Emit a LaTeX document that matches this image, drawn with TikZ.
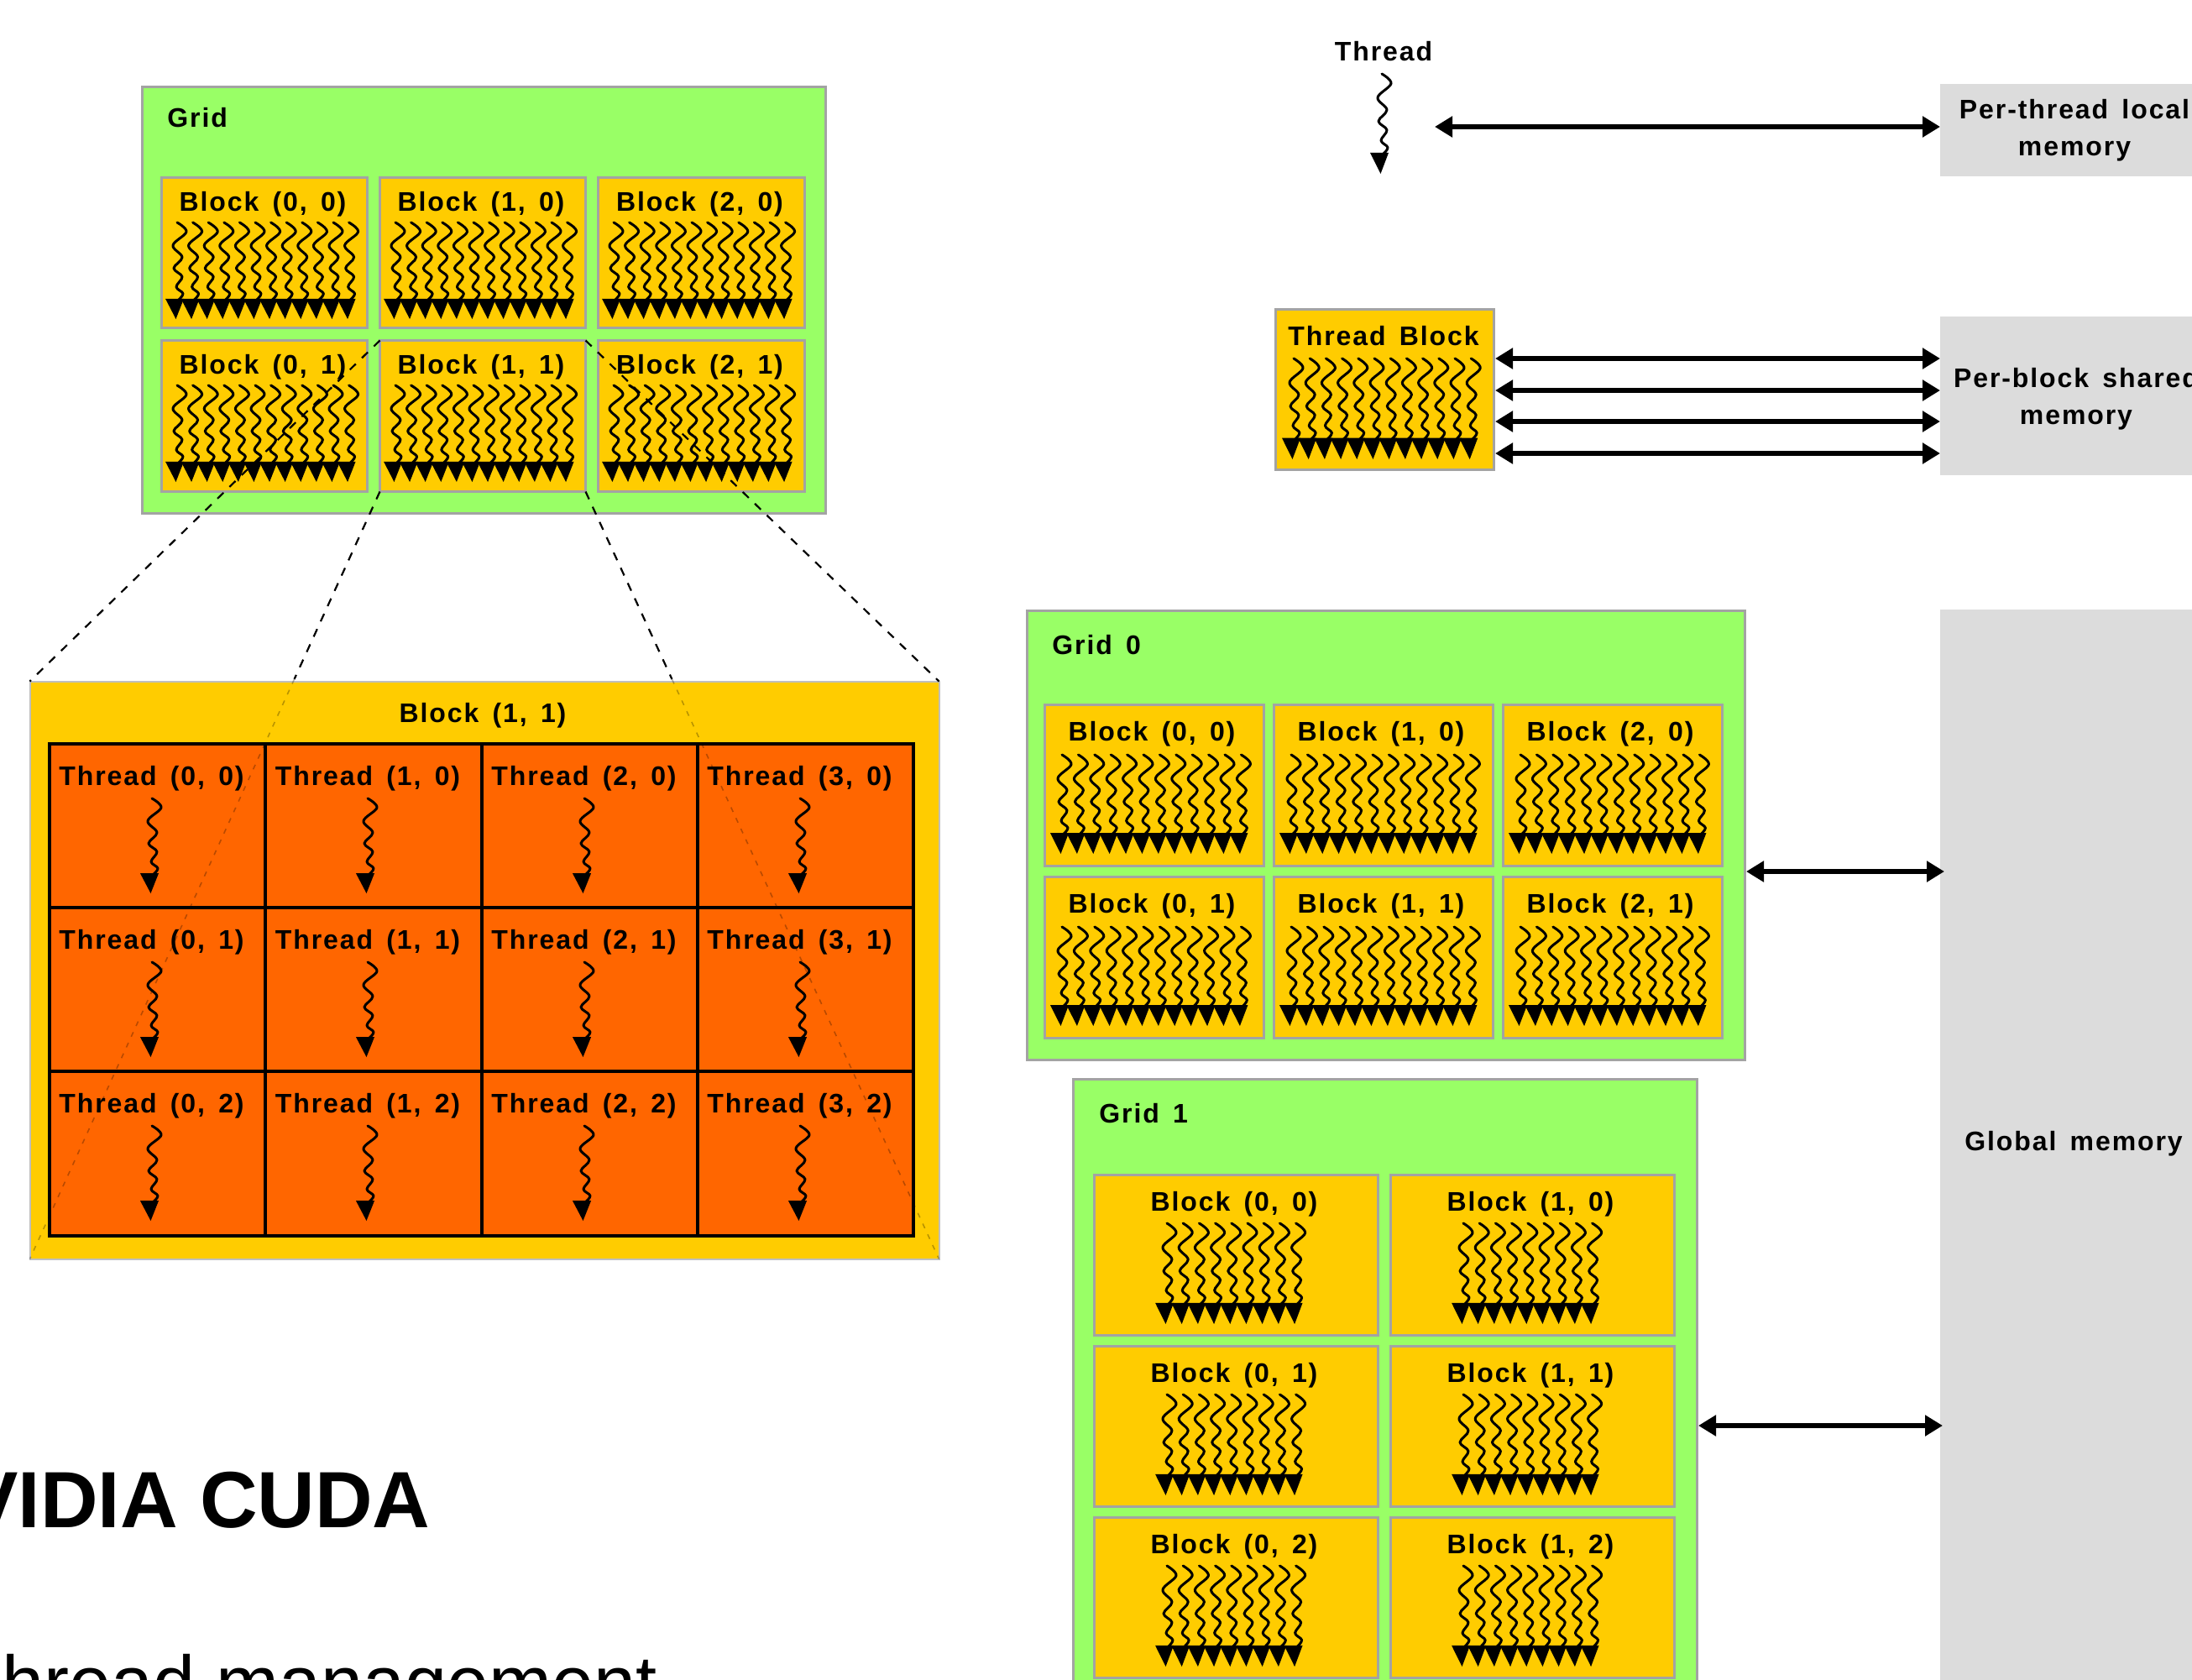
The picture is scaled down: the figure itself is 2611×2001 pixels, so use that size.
\documentclass[tikz,border=0pt]{standalone}
\usepackage{fontspec}
\setmainfont{Liberation Sans}
\newfontfamily\lblfont[LetterSpace=6,WordSpace=1.5]{Liberation Sans}
\usetikzlibrary{arrows.meta,calc}
\definecolor{gridgreen}{HTML}{99FF66}
\definecolor{blockyellow}{HTML}{FFCC00}
\definecolor{threadorange}{HTML}{FF6600}
\definecolor{edgegray}{HTML}{A3A3A3}
\definecolor{memgray}{HTML}{DCDCDC}
\tikzset{
  boxbase/.style={rectangle,inner sep=0pt,outer sep=0pt},
  gridbox/.style={boxbase,fill=gridgreen,draw=edgegray,line width=1.5pt},
  blockbox/.style={boxbase,fill=blockyellow,draw=edgegray,line width=1.5pt},
  bigbox/.style={boxbase,fill=blockyellow,draw=edgegray!70,line width=1pt},
  cellbox/.style={boxbase,fill=threadorange,draw=black,line width=1.7pt},
  membox/.style={boxbase,fill=memgray},
  memtext/.style={inner sep=0pt,align=center,font=\lblfont\bfseries\fontsize{16}{22}\selectfont},
  lbl/.style={inner sep=0pt,anchor=base,font=\lblfont\bfseries\fontsize{16}{19}\selectfont},
  lblw/.style={lbl,anchor=base west},
  zoomline/.style={dashed,dash pattern=on 5pt off 5pt,line width=1.1pt,black},
  faintline/.style={dashed,dash pattern=on 3pt off 4pt,line width=.8pt,black,opacity=.28},
  memarrow/.style={{Triangle[length=10.5pt,width=12pt]}-{Triangle[length=10.5pt,width=12pt]},line width=2.7pt,black},
  titletext/.style={inner sep=0pt,anchor=base east,font=\bfseries\fontsize{47.5}{55}\selectfont},
  subtext/.style={inner sep=0pt,anchor=base east,font=\fontsize{45}{50}\selectfont},
}
% raw box: name, style, x1, y1, x2, y2
\newcommand\rbx[6]{\node[#2,anchor=north west,minimum width={(#5-(#3))*.5pt},minimum height={(#6-(#4))*.5pt}] (#1) at (#3,#4) {};}
% box with its border inside the given outer edges
\newcommand\bx[6]{\pgfmathsetmacro\qa{#3+1.5}\pgfmathsetmacro\qb{#4+1.5}\node[#2,anchor=north west,minimum width={(#5-(#3)-3)*.5pt},minimum height={(#6-(#4)-3)*.5pt}] (#1) at (\qa,\qb) {};}
% one thread: start x, start y, height
\newcommand\wig[3]{%
  \begin{scope}[shift={(#1,#2)},yscale=#3/114]
    \draw[line width=1.5pt,line join=round,line cap=round] plot[smooth,tension=.6] coordinates {(0,0) (11,11) (-5,27) (6,41) (-4,54) (6,64) (-1,76) (7,84) (1,92)};
    \fill (-14,90) -- (8,90) -- (-1.5,114) -- cycle;
  \end{scope}}
% row of threads: x, y, count-1, spacing, height
\newcommand\wigs[5]{\foreach \wi in {0,...,#3}{\pgfmathsetmacro\wx{#1+\wi*#4}\wig{\wx}{#2}{#5}}}
\begin{document}
\begin{tikzpicture}[x=.5pt,y=-.5pt]
\path[use as bounding box,clip] (0,0) rectangle (2611,2001);
\fill[white] (0,0) rectangle (2611,2001);

% ---- left: grid
\bx{grid}{gridbox}{168}{102}{985}{613}
\node[lblw] (gridlbl) at (199,152) {Grid};
\foreach \c/\xa/\xb in {0/191/439,1/451/699,2/711/960}{
  \foreach \r/\ya/\yb in {0/210/392,1/404/587}{
    \bx{b\c\r}{blockbox}{\xa}{\ya}{\xb}{\yb}
    \pgfmathsetmacro\cx{(\xa+\xb)/2-2}
    \pgfmathsetmacro\ly{\ya+41}
    \node[lbl] (bl\c\r) at (\cx,\ly) {Block (\c, \r)};
    \pgfmathsetmacro\tx{\xa+20}
    \pgfmathsetmacro\ty{\ya+55}
    \wigs{\tx}{\ty}{11}{18.6}{115}
  }
}

% ---- left: big block
\bx{big}{bigbox}{34}{810}{1120}{1501}
\node[lbl] (biglbl) at (575,860) {Block (1, 1)};
\foreach \c/\xa/\xb in {0/59/316,1/316/574,2/574/831,3/831/1088}{
  \foreach \r/\ya/\yb in {0/886/1081,1/1081/1276,2/1276/1472}{
    \rbx{c\c\r}{cellbox}{\xa}{\ya}{\xb}{\yb}
    \pgfmathsetmacro\cx{(\xa+\xb)/2-7}
    \pgfmathsetmacro\ly{\ya+49}
    \node[lbl] (cl\c\r) at (\cx,\ly) {Thread (\c, \r)};
    \pgfmathsetmacro\tx{\xa+122}
    \pgfmathsetmacro\ty{\ya+65}
    \wig{\tx}{\ty}{113}
  }
}

% ---- zoom lines
\draw[zoomline] (b11.north west) -- (big.north west);
\draw[zoomline] (b11.north east) -- (big.north east);
\coordinate (enterL) at ($(b11.south west)!.2445!(big.south west)$);
\coordinate (enterR) at ($(b11.south east)!.2445!(big.south east)$);
\draw[zoomline] (b11.south west) -- (enterL);
\draw[zoomline] (b11.south east) -- (enterR);
\draw[faintline] (enterL) -- (big.south west);
\draw[faintline] (enterR) -- (big.south east);

% ---- title text
\node[titletext] (head) at (513,1819) {NVIDIA CUDA};
\node[subtext] (sub) at (783,2035) {Thread management};

% ---- memory boxes
\rbx{perthread}{membox}{2311}{100}{2640}{210}
\rbx{perblock}{membox}{2311}{377}{2640}{566}
\rbx{global}{membox}{2311}{726}{2640}{2040}
\node[memtext] (perthreadlbl) at (2471,155) {Per-thread local\\memory};
\node[memtext] (perblocklbl) at (2473,475) {Per-block shared\\memory};
\node[memtext] (globallbl) at (2470,1362) {Global memory};

% ---- single thread
\node[lbl] (threadlbl) at (1648,73) {Thread};
\wig{1646}{88}{119}
\coordinate (threadend) at (1709,151);
\draw[memarrow] (threadend) -- (threadend -| perthread.west);

% ---- thread block
\bx{tblock}{blockbox}{1518}{367}{1781}{561}
\node[lbl] (tblocklbl) at (1648,411) {Thread Block};
\wigs{1541}{427}{11}{19.2}{120}
\foreach \ya in {427,465,502,540}{
  \coordinate (pa) at (1781,\ya);
  \draw[memarrow] (pa) -- (pa -| perblock.west);
}

% ---- grid 0
\bx{gridz}{gridbox}{1222}{726}{2080}{1264}
\node[lblw] (gridzlbl) at (1253,779) {Grid 0};
\foreach \c/\xa in {0/1243,1/1516,2/1789}{
  \foreach \r/\ya in {0/838,1/1043}{
    \pgfmathsetmacro\xb{\xa+264}
    \pgfmathsetmacro\yb{\ya+195}
    \bx{gz\c\r}{blockbox}{\xa}{\ya}{\xb}{\yb}
    \pgfmathsetmacro\cx{\xa+129}
    \pgfmathsetmacro\ly{\ya+44}
    \node[lbl] (gzl\c\r) at (\cx,\ly) {Block (\c, \r)};
    \pgfmathsetmacro\tx{\xa+22}
    \pgfmathsetmacro\ty{\ya+61}
    \wigs{\tx}{\ty}{11}{19.4}{118}
  }
}
\coordinate (gzarrow) at (2080,1038);
\draw[memarrow,shorten >=-2.5pt] (gzarrow) -- (gzarrow -| global.west);

% ---- grid 1
\bx{grido}{gridbox}{1277}{1284}{2023}{2040}
\node[lblw] (gridolbl) at (1309,1337) {Grid 1};
\foreach \c/\xa in {0/1302,1/1655}{
  \foreach \r/\ya in {0/1398,1/1602,2/1806}{
    \pgfmathsetmacro\xb{\xa+341}
    \pgfmathsetmacro\yb{\ya+194}
    \bx{go\c\r}{blockbox}{\xa}{\ya}{\xb}{\yb}
    \pgfmathsetmacro\cx{\xa+168}
    \pgfmathsetmacro\ly{\ya+44}
    \node[lbl] (gol\c\r) at (\cx,\ly) {Block (\c, \r)};
    \pgfmathsetmacro\tx{\xa+88}
    \pgfmathsetmacro\ty{\ya+59}
    \wigs{\tx}{\ty}{8}{19.2}{120}
  }
}
\coordinate (goarrow) at (2023,1698);
\draw[memarrow,shorten >=-1.5pt] (goarrow) -- (goarrow -| global.west);
\end{tikzpicture}
\end{document}
